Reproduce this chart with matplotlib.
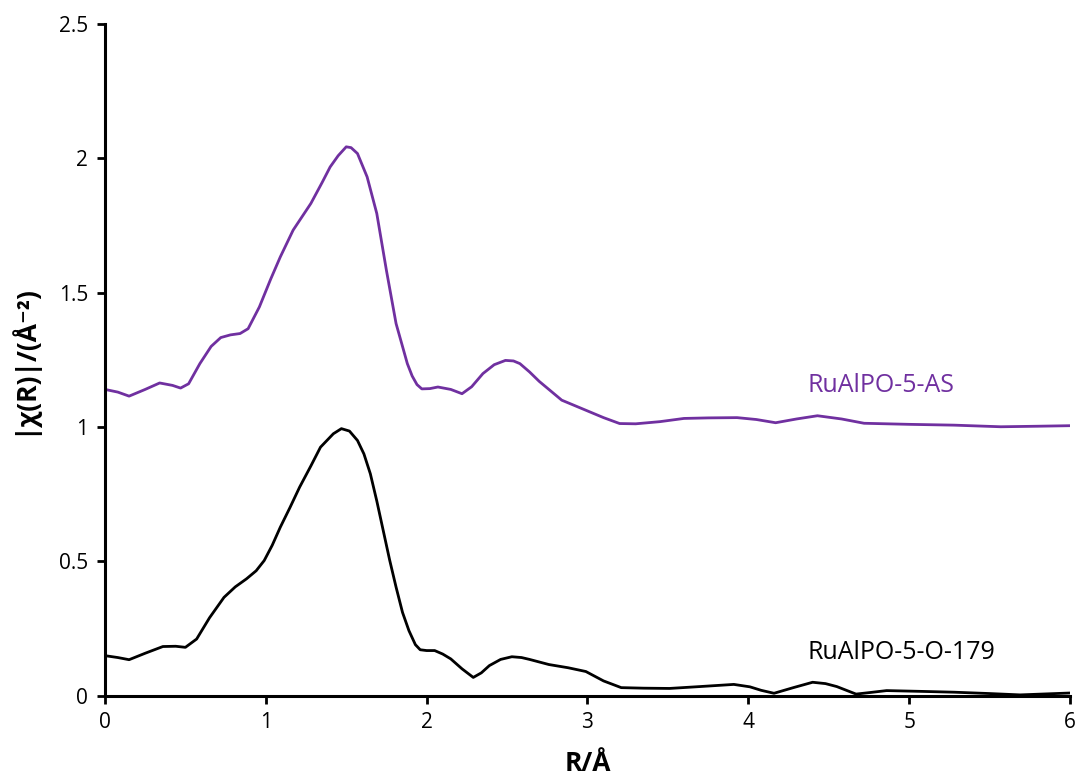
import matplotlib
matplotlib.use("Agg")
import matplotlib.pyplot as plt

# Data
r_as = [0.0, 0.08, 0.15, 0.25, 0.34, 0.42, 0.47, 0.52, 0.59, 0.66, 0.72, 0.78, 0.84, 0.89, 0.96,
        1.03, 1.09, 1.17, 1.28, 1.35, 1.40, 1.45, 1.50, 1.53, 1.57, 1.63, 1.69, 1.75, 1.81, 1.85,
        1.88, 1.91, 1.94, 1.97, 2.02, 2.07, 2.15, 2.22, 2.28, 2.35, 2.42, 2.49, 2.54, 2.58, 2.64,
        2.70, 2.76, 2.84, 2.92, 3.0, 3.1, 3.2, 3.3, 3.45, 3.6, 3.75, 3.93, 4.05, 4.17, 4.30, 4.43,
        4.58, 4.72, 5.0, 5.28, 5.57, 5.8, 6.0]
chi_as = [1.14, 1.13, 1.115, 1.14, 1.164, 1.155, 1.145, 1.161, 1.236, 1.30, 1.333, 1.343, 1.348,
          1.366, 1.447, 1.55, 1.633, 1.733, 1.832, 1.91, 1.968, 2.01, 2.043, 2.04, 2.018, 1.931,
          1.795, 1.583, 1.385, 1.30, 1.236, 1.19, 1.158, 1.142, 1.143, 1.149, 1.14, 1.124, 1.15,
          1.199, 1.232, 1.248, 1.246, 1.236, 1.205, 1.17, 1.14, 1.10, 1.08, 1.06, 1.035, 1.013,
          1.012, 1.02, 1.032, 1.034, 1.035, 1.028, 1.016, 1.03, 1.042, 1.03, 1.014, 1.01, 1.007,
          1.001, 1.003, 1.005]

r_o179 = [0.0, 0.08, 0.15, 0.25, 0.36, 0.44, 0.50, 0.57, 0.65, 0.74, 0.81, 0.88, 0.94, 0.99, 1.04,
          1.09, 1.15, 1.21, 1.28, 1.34, 1.42, 1.47, 1.52, 1.57, 1.61, 1.65, 1.69, 1.73, 1.77, 1.81,
          1.85, 1.89, 1.93, 1.96, 2.00, 2.05, 2.10, 2.15, 2.22, 2.29, 2.34, 2.39, 2.46, 2.53, 2.59,
          2.64, 2.76, 2.88, 2.99, 3.1, 3.21, 3.35, 3.51, 3.7, 3.91, 4.01, 4.08, 4.16, 4.28, 4.40,
          4.48, 4.55, 4.67, 4.76, 4.86, 5.08, 5.28, 5.5, 5.69, 6.0]
chi_o179 = [0.149, 0.142, 0.134, 0.158, 0.183, 0.184, 0.180, 0.211, 0.29, 0.366, 0.405, 0.435,
            0.465, 0.503, 0.56, 0.627, 0.70, 0.776, 0.855, 0.925, 0.975, 0.994, 0.985, 0.950,
            0.90, 0.826, 0.725, 0.615, 0.505, 0.404, 0.31, 0.242, 0.19, 0.171, 0.168, 0.168,
            0.155, 0.137, 0.10, 0.068, 0.085, 0.112, 0.135, 0.145, 0.142, 0.135, 0.116, 0.104,
            0.09, 0.055, 0.030, 0.028, 0.027, 0.034, 0.042, 0.033, 0.02, 0.009, 0.03, 0.050,
            0.045, 0.034, 0.006, 0.012, 0.019, 0.016, 0.013, 0.008, 0.003, 0.010]

x_ticks = [0, 1, 2, 3, 4, 5, 6]
y_ticks = [0, 0.5, 1, 1.5, 2, 2.5]
y_tick_labels = ["0", "0.5", "1", "1.5", "2", "2.5"]

label_as = "RuAlPO-5-AS"
label_o179 = "RuAlPO-5-O-179"

plt.rcParams['font.family'] = ['Open Sans', 'DejaVu Sans']

fig = plt.figure(figsize=(10.8, 7.83), dpi=100)
ax = fig.add_axes([0.0972, 0.1115, 0.8935, 0.8578])

purple = "#7030A0"
ax.plot(r_as, chi_as, color=purple, lw=2.0, solid_joinstyle="round")
ax.plot(r_o179, chi_o179, color="black", lw=2.0, solid_joinstyle="round")

ax.set_xlim(0, 6)
ax.set_ylim(0, 2.5)
ax.set_xticks(x_ticks)
ax.set_xticklabels([str(t) for t in x_ticks])
ax.set_yticks(y_ticks)
ax.set_yticklabels(y_tick_labels)

for s in ["top", "right"]:
    ax.spines[s].set_visible(False)
for s in ["left", "bottom"]:
    ax.spines[s].set_linewidth(2.2)
    ax.spines[s].set_color("black")
ax.tick_params(direction="out", length=6, width=2, labelsize=15, colors="black", pad=6)

ax.set_xlabel("R/Å", fontsize=19, fontweight="bold", labelpad=12)
ax.set_ylabel("|χ(R)|/(Å⁻²)", fontsize=19, fontweight="bold", labelpad=16)

ax.text(4.37, 1.156, label_as, color=purple, fontsize=18, va="center", ha="left")
ax.text(4.37, 0.159, label_o179, color="black", fontsize=18, va="center", ha="left")

fig.savefig("out.png", dpi=100)
